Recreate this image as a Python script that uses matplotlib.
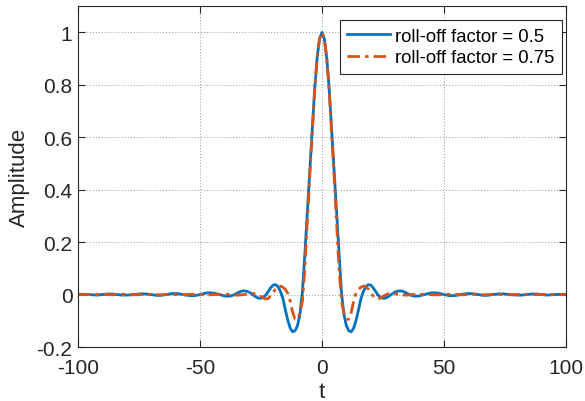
import numpy as np
import matplotlib.pyplot as plt

plt.rcParams['font.family'] = ['Liberation Sans', 'DejaVu Sans']

# one side of each pulse (t >= 0); the pulses are symmetric about t = 0
t_half = [0, 1, 2, 3, 4, 5, 6, 7, 8, 9, 10, 11, 12, 13, 14, 15, 16, 17, 18, 19,
          20, 21, 22, 23, 24, 25, 26, 27, 28, 29, 30, 31, 32, 33, 34, 35, 36, 37,
          38, 39, 40, 42, 44, 46, 48, 50, 52, 54, 56, 58, 60, 62, 64, 66, 68, 70,
          72, 74, 76, 78, 80, 82, 84, 86, 88, 90, 92, 94, 96, 98, 100]

rolloff_05 = [1.0, 0.975, 0.90, 0.78, 0.625, 0.47, 0.31, 0.155, 0.01, -0.075,
              -0.118, -0.138, -0.142, -0.128, -0.098, -0.058, -0.015, 0.012,
              0.030, 0.038, 0.036, 0.026, 0.012, -0.002, -0.010, -0.014, -0.014,
              -0.009, -0.003, 0.004, 0.010, 0.013, 0.014, 0.013, 0.009, 0.004,
              -0.001, -0.004, -0.006, -0.006, -0.005, 0.0, 0.005, 0.007, 0.005,
              0.0, -0.004, -0.004, -0.002, 0.002, 0.004, 0.003, 0.0, -0.003,
              -0.003, 0.0, 0.002, 0.003, 0.001, -0.001, -0.002, -0.002, 0.0,
              0.002, 0.002, 0.0, -0.002, -0.001, 0.0, 0.001, 0.001]

rolloff_075 = [1.0, 0.975, 0.90, 0.775, 0.615, 0.45, 0.275, 0.10, -0.025, -0.07,
               -0.094, -0.094, -0.068, -0.025, 0.005, 0.020, 0.028, 0.032, 0.031,
               0.021, 0.008, -0.005, -0.015, -0.017, -0.013, -0.007, -0.002,
               0.002, 0.004, 0.004, 0.003, 0.001, 0.0, -0.001, -0.002, -0.002,
               -0.001, 0.0, 0.0, 0.001, 0.001, 0.001, 0.0, -0.001, -0.001, 0.0,
               0.001, 0.001, 0.0, -0.001, 0.0, 0.001, 0.0, -0.001, 0.0, 0.0,
               0.001, 0.0, -0.001, 0.0, 0.0, 0.001, 0.0, -0.001, 0.0, 0.0, 0.0,
               0.0, 0.0, 0.0, 0.0]

x_ticks = [-100, -50, 0, 50, 100]
y_ticks = [-0.2, 0, 0.2, 0.4, 0.6, 0.8, 1]
y_tick_labels = ['-0.2', '0', '0.2', '0.4', '0.6', '0.8', '1']


def mirror(x, y):
    x = np.asarray(x, float)
    y = np.asarray(y, float)
    return np.concatenate([-x[:0:-1], x]), np.concatenate([y[:0:-1], y])


t, h1 = mirror(t_half, rolloff_05)
_, h2 = mirror(t_half, rolloff_075)

fig = plt.figure(figsize=(5.85, 4.02), dpi=100)
ax = fig.add_axes([0.1333, 0.1343, 0.834, 0.848])

ax.plot(t, h1, color='#0072BD', lw=2.0, label='roll-off factor = 0.5')
ax.plot(t, h2, color='#D95319', lw=2.0, linestyle=(0, (4.5, 1.8, 1.3, 1.8)),
        label='roll-off factor = 0.75')

ax.set_xlim(-100, 100)
ax.set_ylim(-0.2, 1.1)
ax.set_xticks(x_ticks)
ax.set_xticklabels([str(v) for v in x_ticks])
ax.set_yticks(y_ticks)
ax.set_yticklabels(y_tick_labels)

ax.grid(True, linestyle=(0, (1, 2)), color='0.6', lw=0.7)
ax.tick_params(direction='in', length=5, width=0.8, top=True, right=True,
               labelsize=15, colors='#262626', pad=4)
ax.tick_params(axis='x', pad=8)
for sp in ax.spines.values():
    sp.set_color('#262626')
    sp.set_linewidth(0.8)

ax.set_xlabel('t', fontsize=16, color='#262626', labelpad=3)
ax.set_ylabel('Amplitude', fontsize=16, color='#262626', labelpad=5)

leg = ax.legend(loc='upper right', bbox_to_anchor=(0.992, 0.958), fontsize=13.3,
                fancybox=False, framealpha=1, edgecolor='#262626',
                handlelength=2.3, handletextpad=0.3, borderpad=0.4,
                labelspacing=0.25, borderaxespad=0)
leg.get_frame().set_linewidth(0.8)

fig.savefig('out.png', dpi=100)
